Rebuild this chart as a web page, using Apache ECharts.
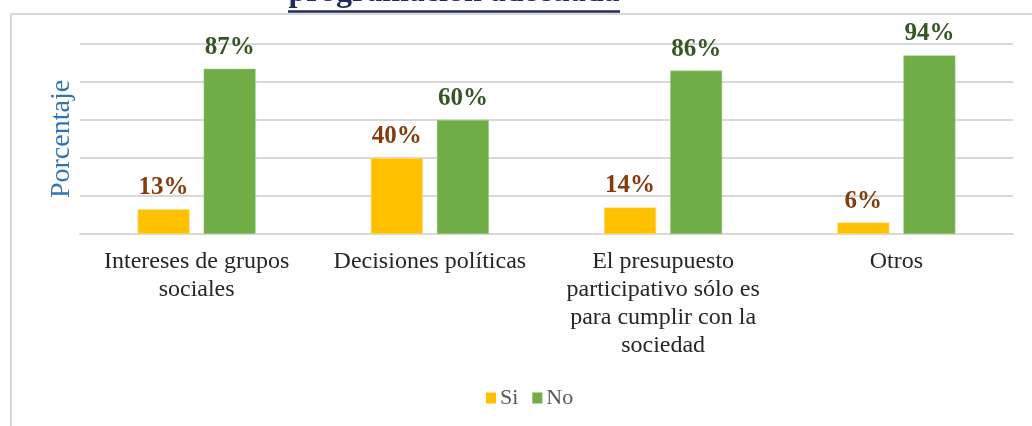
<!DOCTYPE html>
<html>
<head>
<meta charset="utf-8">
<script src="https://cdn.jsdelivr.net/npm/echarts@6/dist/echarts.min.js"></script>
<style>
html,body{margin:0;padding:0;background:#fff;}
#chart{width:1032px;height:426px;}
</style>
</head>
<body>
<div id="chart"></div>
<script>
const categories = [
  "Intereses de grupos\nsociales",
  "Decisiones políticas",
  "El presupuesto\nparticipativo sólo es\npara cumplir con la\nsociedad",
  "Otros"
];
const siValues = [13, 40, 14, 6];
const noValues = [87, 60, 86, 94];
const seriesNames = ["Si", "No"];
const titleText = "programación adecuada";
const yAxisName = "Porcentaje";

const serif = '"Liberation Serif", "Times New Roman", serif';
const chart = echarts.init(document.getElementById('chart'), null, {renderer: 'canvas'});
chart.setOption({
  backgroundColor: '#fff',
  animation: false,
  graphic: [
    {type: 'polyline', shape: {points: [[11, 426], [11, 14], [1032, 14]]},
     style: {stroke: '#D9D9D9', lineWidth: 2, fill: null}, z: 0},
    {type: 'text', x: 454, y: 9, style: {text: titleText, font: 'bold 32px ' + serif,
      fill: '#1F2A5E', align: 'center', verticalAlign: 'bottom'}, z: 5},
    {type: 'line', shape: {x1: 288, y1: 11.5, x2: 620, y2: 11.5},
     style: {stroke: '#1F2A5E', lineWidth: 2.5}, z: 6}
  ],
  legend: {
    data: seriesNames,
    top: 382,
    left: 481,
    itemWidth: 10,
    itemHeight: 11,
    itemGap: 14,
    icon: 'rect',
    itemStyle: {borderWidth: 0},
    textStyle: {fontFamily: serif, fontSize: 22, color: '#595959', padding: [0, 0, 0, -1]}
  },
  grid: {left: 80, right: 19, top: 44, bottom: 192, containLabel: false},
  xAxis: {
    type: 'category',
    data: categories,
    axisLine: {show: true, lineStyle: {color: '#D9D9D9', width: 2}},
    axisTick: {show: false},
    axisLabel: {fontFamily: serif, fontSize: 24, color: '#262626', lineHeight: 28, margin: 14, interval: 0, align: 'center'}
  },
  yAxis: {
    type: 'value',
    min: 0, max: 100, interval: 20,
    name: yAxisName,
    nameLocation: 'middle',
    nameGap: 4,
    nameRotate: 90,
    nameTextStyle: {fontFamily: serif, fontSize: 28, color: '#2E75B6', verticalAlign: 'bottom'},
    axisLabel: {show: false},
    axisLine: {show: false},
    axisTick: {show: false},
    splitLine: {lineStyle: {color: '#D9D9D9', width: 2}}
  },
  series: [
    {name: seriesNames[0], type: 'bar', data: siValues, barWidth: 52, barGap: '27%',
     itemStyle: {color: '#FFC000', borderColor: '#FFE08A', borderWidth: 0.5},
     label: {show: true, position: 'top', distance: 9, formatter: '{c}%',
       fontFamily: serif, fontSize: 25, fontWeight: 'bold', color: '#843C0C'}},
    {name: seriesNames[1], type: 'bar', data: noValues, barWidth: 52,
     itemStyle: {color: '#70AD47', borderColor: '#A9D18E', borderWidth: 0.5},
     label: {show: true, position: 'top', distance: 9, formatter: '{c}%',
       fontFamily: serif, fontSize: 25, fontWeight: 'bold', color: '#375623'}}
  ]
});
</script>
</body>
</html>
